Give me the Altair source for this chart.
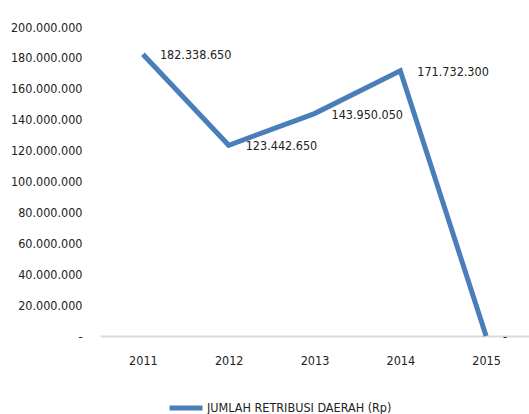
import altair as alt
import pandas as pd

years = ["2011", "2012", "2013", "2014", "2015"]
values = [182338650, 123442650, 143950050, 171732300, 0]
value_labels = ["182.338.650", "123.442.650", "143.950.050", "171.732.300", "-"]
series = "JUMLAH RETRIBUSI DAERAH (Rp)"

df = pd.DataFrame({"year": years, "value": values, "label": value_labels, "series": [series] * len(years)})

FONT = "DejaVu Sans Condensed"
FS = 12.5
BLUE = "#4A7EBB"

base = alt.Chart(df).encode(
    x=alt.X("year:N", sort=years, title=None,
            scale=alt.Scale(paddingInner=0, paddingOuter=0.5),
            axis=alt.Axis(labelAngle=0, ticks=False, labelPadding=18, domainColor="#d9d9d9",
                          domainWidth=2, labelFontSize=FS, labelFont=FONT, labelColor="#222")),
    y=alt.Y("value:Q", title=None,
            scale=alt.Scale(domain=[0, 200000000], nice=False),
            axis=alt.Axis(values=list(range(0, 200000001, 20000000)), grid=False, domain=False,
                          ticks=False, labelPadding=18, labelFontSize=FS, labelFont=FONT,
                          labelColor="#222",
                          labelExpr="datum.value == 0 ? '-' : replace(replace(format(datum.value, ','), ',', '.'), ',', '.')")),
)

line = base.mark_line(strokeWidth=5).encode(
    color=alt.Color("series:N", scale=alt.Scale(range=[BLUE]),
                    legend=alt.Legend(title=None, orient="none", legendX=67, legendY=362,
                                      symbolType="stroke", symbolStrokeWidth=5, symbolSize=1089,
                                      labelFont=FONT, labelFontSize=FS, labelColor="#222",
                                      labelLimit=400, labelOffset=2))
)

text = base.mark_text(align="left", baseline="middle", dx=17, dy=1, fontSize=FS, font=FONT,
                      color="#222").encode(text="label:N")

chart = (line + text).properties(
    width=429, height=309,
    autosize=alt.AutoSizeParams(type="none"),
    padding={"left": 100, "top": 27, "right": 0, "bottom": 78},
).configure_view(stroke=None)

chart.save("out.html", embed_options={"renderer": "svg", "actions": False})
